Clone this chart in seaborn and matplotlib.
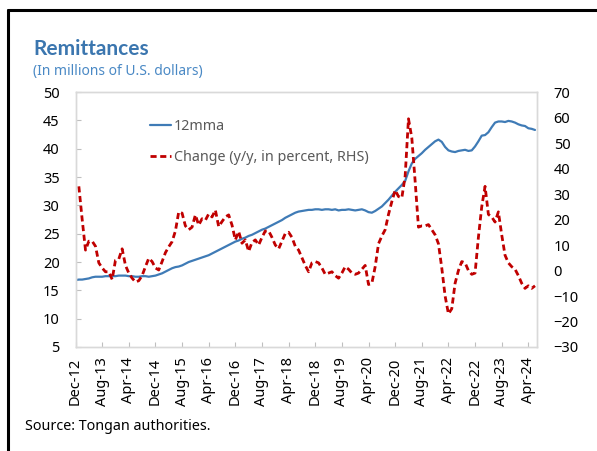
import seaborn as sns
import matplotlib.pyplot as plt
from matplotlib.lines import Line2D
import pandas as pd
import numpy as np

# monthly data, Dec-2012 .. Jun-2024
mma12 = [
    16.8, 16.9, 16.9, 17.0, 17.1, 17.3, 17.4, 17.4, 17.4, 17.5,
    17.5, 17.5, 17.5, 17.6, 17.6, 17.6, 17.5, 17.5, 17.4, 17.4,
    17.5, 17.5, 17.4, 17.5, 17.6, 17.8, 18.0, 18.3, 18.6, 18.9,
    19.1, 19.2, 19.4, 19.7, 20.0, 20.2, 20.4, 20.6, 20.8, 21.0,
    21.2, 21.5, 21.8, 22.1, 22.4, 22.7, 23.0, 23.3, 23.6, 23.8,
    24.1, 24.3, 24.6, 24.8, 25.1, 25.4, 25.7, 25.9, 26.2, 26.5,
    26.8, 27.1, 27.4, 27.8, 28.1, 28.4, 28.7, 28.9, 29.0, 29.1,
    29.2, 29.2, 29.3, 29.3, 29.2, 29.3, 29.3, 29.2, 29.3, 29.1,
    29.2, 29.2, 29.3, 29.2, 29.1, 29.2, 29.3, 29.1, 28.8, 28.7,
    29.0, 29.4, 29.8, 30.4, 31.0, 31.7, 32.4, 33.0, 33.6, 34.3,
    36.0, 37.4, 38.2, 38.7, 39.2, 39.8, 40.3, 40.8, 41.3, 41.6,
    41.2, 40.3, 39.7, 39.5, 39.4, 39.6, 39.7, 39.8, 39.6, 39.7,
    40.4, 41.3, 42.3, 42.4, 42.9, 43.8, 44.6, 44.8, 44.8, 44.7,
    44.9, 44.8, 44.6, 44.3, 44.1, 44.0, 43.6, 43.5, 43.3,
]
change_yy = [
    np.nan, 33, 20, 8, 11.5, 11.5, 9.5, 3, 1, -0.5,
    -0.5, -3.5, 4, 4.5, 8.5, 2, -1, -3, -4.5, -4,
    -2, 1.5, 4.8, 3.5, 1, 0.2, 3.5, 7, 9.3, 11.3,
    15.5, 23, 22.5, 17.5, 16, 17, 21.8, 17.8, 20.3, 19.7,
    22.2, 21, 23.7, 17.2, 19.2, 21, 21.8, 17.8, 12, 15.3,
    10.7, 12, 7.5, 11, 12, 10, 13, 15.5, 15.5, 13,
    10, 8.5, 11.5, 14.5, 15, 13, 9.5, 8, 5, 2,
    -0.5, 3, 3.5, 3, 1, -1.5, -1, -0.5, -2, -3,
    -1, 1.5, 0.5, -1, -1.5, -1, 0.5, 2, -5.5, -5,
    1.5, 10.5, 13.5, 16, 22, 27, 31.5, 29, 28.5, 37,
    59.5, 52, 35, 17, 17.5, 17.5, 18, 16, 14, 10.5,
    1, -10, -17, -15, -5, 0, 3.5, 3, 0, -1.5,
    -1, 13, 25, 33, 22, 21, 19, 23, 14, 6,
    3, 1.5, 0.5, -2, -5, -7, -6, -7, -6,
]
dates = pd.date_range("2012-12-01", periods=len(mma12), freq="MS")

df = pd.DataFrame({"m": np.arange(len(mma12)), "12mma": mma12, "chg": change_yy})
tick_pos = list(range(0, 137, 8))
tick_lab = [dates[i].strftime("%b-%y") for i in tick_pos]

sns.set_theme(style="white")
plt.rcParams["font.family"] = ["Noto Sans", "DejaVu Sans"]

blue = "#3F7BB6"
red = "#C00000"
grey = "#D9D9D9"

fig = plt.figure(figsize=(5.97, 4.51), dpi=100)
ax = fig.add_axes([0.1265, 0.2306, 0.773, 0.5654])
ax2 = ax.twinx()

sns.lineplot(df, x="m", y="12mma", ax=ax, color=blue, lw=1.6, estimator=None, label="12mma")
sns.lineplot(df, x="m", y="chg", ax=ax2, color=red, lw=2.0, estimator=None,
             linestyle=(0, (2.2, 1.3)), label="Change (y/y, in percent, RHS)")

ax.set_xlim(0, 138.6)
ax.set_ylim(5, 50)
ax.set_yticks(range(5, 51, 5))
ax2.set_ylim(-30, 70)
ax2.set_yticks(range(-30, 71, 10))
ax.set_xticks(tick_pos)
ax.set_xticklabels(tick_lab, rotation=90)
ax.set_xlabel("")
ax.set_ylabel("")
ax2.set_ylabel("")

for a in (ax, ax2):
    for s in a.spines.values():
        s.set_color(grey)
        s.set_linewidth(1.0)
ax.tick_params(axis="both", direction="in", length=3.5, width=0.8, color="#BFBFBF",
               labelsize=10.5, labelcolor="black")
ax.tick_params(axis="y", pad=11.5)
ax.tick_params(axis="x", pad=7.5)
ax.tick_params(axis="y", left=True)
ax.tick_params(axis="x", bottom=True)
ax2.tick_params(axis="y", length=0, pad=12, labelsize=10.5, labelcolor="black")

h1, l1 = ax.get_legend_handles_labels()
h2, l2 = ax2.get_legend_handles_labels()
ax.get_legend().remove()
ax2.legend(h1 + h2, l1 + l2, loc="upper left", bbox_to_anchor=(0.161, 0.895),
           frameon=False, fontsize=10.3, labelcolor="#595959", handlelength=1.5,
           handletextpad=0.2, labelspacing=1.1, borderpad=0, borderaxespad=0)

fig.text(33 / 597, 1 - 55 / 451, "Remittances", fontsize=15, fontweight="bold",
         family=["Lato", "Liberation Sans", "DejaVu Sans"],
         color="#3B76AF", ha="left", va="baseline")
fig.text(33 / 597, 1 - 75 / 451, "(In millions of U.S. dollars)", fontsize=10,
         color="#4A89C5", ha="left", va="baseline")
fig.text(25 / 597, 1 - 430 / 451, "Source: Tongan authorities.", fontsize=10.3,
         color="black", ha="left", va="baseline")

# outer frame (top and left only)
fig.add_artist(Line2D([8 / 597, 1], [1 - 10 / 451, 1 - 10 / 451], color="black", lw=2.2))
fig.add_artist(Line2D([8 / 597, 8 / 597], [0, 1 - 10 / 451], color="black", lw=2.2))

fig.savefig("out.png", dpi=100)
